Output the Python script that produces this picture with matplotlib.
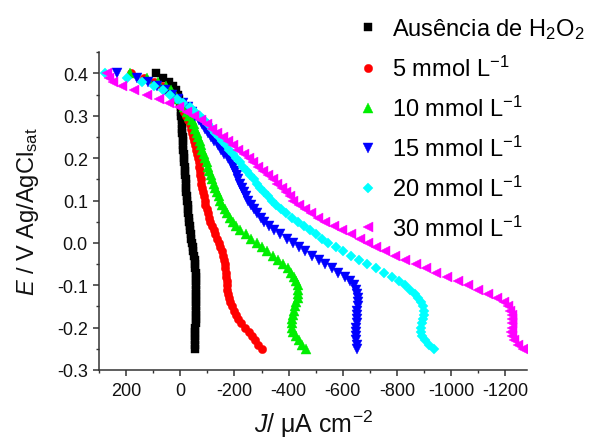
import matplotlib
matplotlib.use('Agg')
import matplotlib.pyplot as plt
from matplotlib.ticker import MultipleLocator

plt.rcParams['font.family'] = ['Liberation Sans', 'DejaVu Sans']
plt.rcParams['mathtext.fontset'] = 'custom'
plt.rcParams['mathtext.rm'] = 'Liberation Sans'
plt.rcParams['mathtext.it'] = 'Liberation Sans:italic'
plt.rcParams['mathtext.bf'] = 'Liberation Sans:bold'

# Potential (V vs Ag/AgCl sat)
E = [0.40, 0.39, 0.38, 0.37, 0.36, 0.35, 0.34, 0.33, 0.32, 0.31,
     0.30, 0.29, 0.28, 0.27, 0.26, 0.25, 0.24, 0.23, 0.22, 0.21,
     0.20, 0.19, 0.18, 0.17, 0.16, 0.15, 0.14, 0.13, 0.12, 0.11,
     0.10, 0.09, 0.08, 0.07, 0.06, 0.05, 0.04, 0.03, 0.02, 0.01,
     0.00, -0.01, -0.02, -0.03, -0.04, -0.05, -0.06, -0.07, -0.08, -0.09,
     -0.10, -0.11, -0.12, -0.13, -0.14, -0.15, -0.16, -0.17, -0.18, -0.19,
     -0.20, -0.21, -0.22, -0.23, -0.24, -0.25]

# Current density (uA cm-2)
J_ausencia = [88, 62, 42, 26, 15, 8, 3, 0, -2, -3,
              -4, -5, -6, -7, -8, -9, -10, -11, -12, -13,
              -14, -15, -16, -18, -19, -20, -21, -22, -23, -24,
              -26, -27, -29, -30, -32, -33, -35, -37, -39, -41,
              -44, -46, -48, -51, -53, -55, -56, -57, -58, -58,
              -58, -58, -58, -58, -58, -58, -58, -58, -57, -57,
              -56, -56, -56, -55, -55, -55]
J_5 = [182, 135, 98, 68, 44, 26, 12, 2, -7, -15,
       -22, -29, -35, -40, -44, -48, -52, -56, -60, -63,
       -66, -68, -70, -72, -74, -76, -78, -81, -84, -87,
       -90, -93, -97, -101, -106, -111, -116, -123, -130, -137,
       -143, -148, -153, -157, -161, -164, -167, -169, -170, -171,
       -172, -174, -177, -180, -184, -190, -197, -206, -215, -226,
       -239, -252, -264, -276, -288, -300]
J_10 = [184, 122, 82, 54, 34, 19, 6, -4, -14, -24,
        -33, -42, -50, -56, -62, -67, -72, -77, -82, -87,
        -92, -97, -102, -107, -112, -118, -124, -130, -136, -142,
        -148, -155, -164, -174, -184, -194, -205, -222, -242, -262,
        -282, -302, -322, -343, -362, -380, -396, -410, -420, -428,
        -433, -436, -436, -433, -429, -425, -421, -417, -414, -412,
        -413, -418, -427, -438, -450, -464]
J_15 = [232, 160, 120, 85, 55, 30, 8, -12, -28, -42,
        -56, -68, -80, -92, -103, -114, -126, -138, -150, -163,
        -176, -186, -194, -201, -208, -215, -222, -229, -237, -244,
        -251, -260, -272, -285, -298, -311, -326, -346, -368, -394,
        -418, -440, -462, -488, -512, -536, -560, -584, -608, -628,
        -640, -648, -652, -655, -655, -655, -654, -653, -652, -651,
        -650, -649, -648, -649, -651, -654]
J_20 = [277, 196, 140, 98, 65, 38, 12, -12, -35, -55,
        -72, -88, -103, -116, -129, -142, -155, -168, -181, -194,
        -207, -220, -233, -246, -259, -272, -284, -296, -309, -323,
        -338, -354, -372, -392, -412, -434, -456, -478, -500, -522,
        -546, -574, -602, -630, -660, -690, -722, -752, -782, -808,
        -830, -850, -866, -879, -889, -896, -900, -900, -896, -891,
        -888, -889, -894, -905, -920, -936]
J_30 = [272, 262, 248, 215, 170, 122, 78, 40, 5, -25,
        -52, -76, -97, -117, -137, -157, -177, -196, -215, -234,
        -252, -270, -288, -306, -324, -341, -358, -375, -390, -404,
        -418, -440, -462, -484, -508, -536, -566, -598, -632, -664,
        -694, -724, -756, -792, -830, -869, -908, -946, -985, -1024,
        -1063, -1100, -1136, -1168, -1194, -1210, -1219, -1224, -1226, -1226,
        -1224, -1222, -1224, -1232, -1246, -1264]

labels = ['Ausência de H$_2$O$_2$', '5 mmol L$^{-1}$', '10 mmol L$^{-1}$',
          '15 mmol L$^{-1}$', '20 mmol L$^{-1}$', '30 mmol L$^{-1}$']
series = [J_ausencia, J_5, J_10, J_15, J_20, J_30]
colors = ['#000000', '#ff0000', '#00ee00', '#0000ff', '#00ffff', '#ff00ff']
markers = ['s', 'o', '^', 'v', 'D', '<']
msizes = [5.2, 6.0, 6.5, 6.5, 4.8, 6.5]

fig = plt.figure(figsize=(5.97, 4.39), dpi=100)
ax = fig.add_axes([0.1658, 0.1549, 0.7169, 0.7237])

handles = []
for J, c, m, ms, lab in zip(series, colors, markers, msizes, labels):
    h, = ax.plot(J, E, linestyle='none', marker=m, ms=ms, color=c,
                 mec=c, mew=0.3, label=lab)
    handles.append(h)

ax.set_xlim(300, -1280)
ax.set_ylim(-0.3, 0.45)
ax.xaxis.set_major_locator(MultipleLocator(200))
ax.xaxis.set_minor_locator(MultipleLocator(100))
ax.yaxis.set_major_locator(MultipleLocator(0.1))
ax.yaxis.set_minor_locator(MultipleLocator(0.05))
ax.yaxis.set_major_formatter(plt.FuncFormatter(lambda v, p: f'{v:.1f}'))
ax.xaxis.set_major_formatter(plt.FuncFormatter(lambda v, p: f'{v:.0f}'))

for s in ['top', 'right']:
    ax.spines[s].set_visible(False)
for s in ['left', 'bottom']:
    ax.spines[s].set_linewidth(1.1)
    ax.spines[s].set_color('#333333')
ax.tick_params(which='major', direction='out', length=4, width=1.1,
               color='#333333', labelsize=13, labelcolor='#111111')
ax.tick_params(which='minor', direction='out', length=2.5, width=1.0,
               color='#333333')
ax.tick_params(axis='x', which='major', pad=5)
ax.tick_params(axis='y', which='major', pad=4)

W, H = 597.0, 439.0
fig.text(314 / W, 1 - 433 / H, '$J$/ μA cm$^{-2}$', fontsize=18,
         ha='center', va='baseline', color='#111111')
fig.text(28 / W, 1 - 212 / H, '$E$ / V Ag/AgCl$_{\\mathrm{sat}}$',
         fontsize=17, rotation=90, ha='center', va='center', color='#111111')

fig.legend(handles=handles, labels=labels, loc='upper left',
           bbox_to_anchor=(0.6025, 0.960), frameon=False, fontsize=17,
           handlelength=0.7, handletextpad=0.67, labelspacing=0.62,
           borderpad=0, borderaxespad=0, numpoints=1)

fig.savefig('out.png', dpi=100)
